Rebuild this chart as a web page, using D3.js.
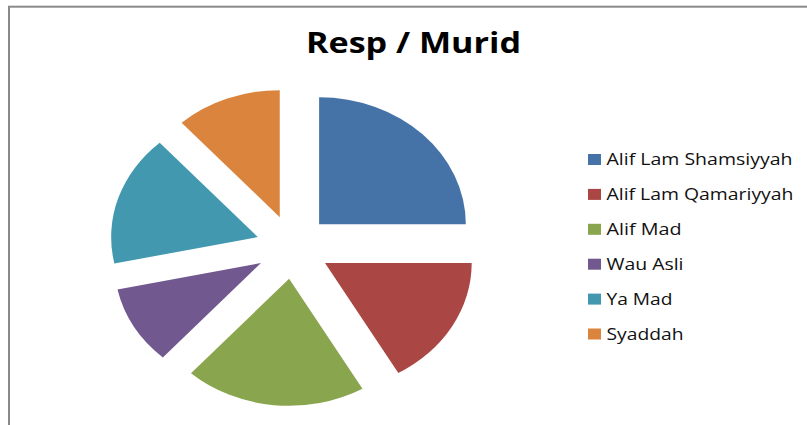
<!DOCTYPE html>
<html>
<head>
<meta charset="utf-8">
<script src="https://cdn.jsdelivr.net/npm/d3@7"></script>
<style>
  body { margin: 0; background: #fff; }
  svg { display: block; }
</style>
</head>
<body>
<div id="wrapper"></div>
<script>
const categories = ['Alif Lam Shamsiyyah', 'Alif Lam Qamariyyah', 'Alif Mad', 'Wau Asli', 'Ya Mad', 'Syaddah']
const values = [15, 10, 12, 6, 10, 7]
const colors = ['#4572A7', '#AA4643', '#89A54E', '#71588F', '#4198AF', '#DB843D']
const labelWidths = [186, 187, 75, 77, 66, 77]

const dimensions = {
  width: 807,
  height: 425,
  cx: 293,
  cy: 247,
  radius: 127,
  stretch: 1.155,
  explode: 32,
}

const dataset = categories.map((name, i) => ({ name, value: values[i], color: colors[i], labelWidth: labelWidths[i] }))

const wrapper = d3.select('#wrapper')
  .append('svg')
  .attr('width', dimensions.width)
  .attr('height', dimensions.height)

// chart frame (only left and top edges show in the crop)
wrapper.append('rect')
  .attr('x', 9)
  .attr('y', 6.7)
  .attr('width', 1000)
  .attr('height', 1000)
  .attr('fill', 'none')
  .attr('stroke', '#8a8a8a')
  .attr('stroke-width', 2)

wrapper.append('text')
  .attr('x', 413.5)
  .attr('y', 53)
  .attr('text-anchor', 'middle')
  .attr('font-family', "'Open Sans', sans-serif")
  .attr('font-weight', 'bold')
  .attr('font-size', 28)
  .attr('textLength', 215)
  .attr('lengthAdjust', 'spacingAndGlyphs')
  .attr('fill', '#000')
  .text('Resp / Murid')

const pie = d3.pie()
  .sort(null)
  .value(d => d.value)

const arc = d3.arc()
  .innerRadius(0)
  .outerRadius(dimensions.radius)

const pieGroup = wrapper.append('g')
  .attr('transform', `translate(${dimensions.cx},${dimensions.cy}) scale(${dimensions.stretch},1)`)

pieGroup.selectAll('path')
  .data(pie(dataset))
  .enter().append('path')
  .attr('d', arc)
  .attr('fill', d => d.data.color)
  .attr('transform', d => {
    const mid = (d.startAngle + d.endAngle) / 2
    const dx = Math.sin(mid) * dimensions.explode
    const dy = -Math.cos(mid) * dimensions.explode
    return `translate(${dx},${dy})`
  })

const legend = wrapper.append('g')
  .attr('transform', 'translate(588, 154)')

const rows = legend.selectAll('g')
  .data(dataset)
  .enter().append('g')
  .attr('transform', (d, i) => `translate(0, ${i * 34.9})`)

rows.append('rect')
  .attr('width', 13)
  .attr('height', 11)
  .attr('fill', d => d.color)

rows.append('text')
  .attr('x', 18.5)
  .attr('y', 11)
  .attr('font-family', "'Open Sans', sans-serif")
  .attr('font-size', 17)
  .attr('textLength', d => d.labelWidth)
  .attr('lengthAdjust', 'spacingAndGlyphs')
  .attr('fill', '#111')
  .text(d => d.name)
</script>
</body>
</html>
